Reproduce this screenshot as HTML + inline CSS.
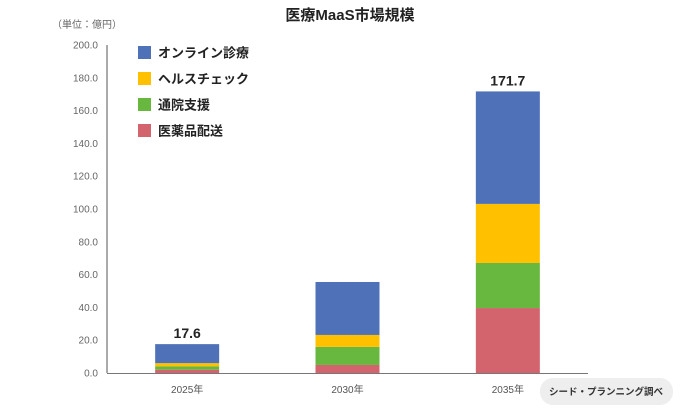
<!DOCTYPE html>
<html><head><meta charset="utf-8">
<style>
body{margin:0;width:700px;height:414px;background:#fff;overflow:hidden;font-family:"Liberation Sans","Noto Sans CJK JP",sans-serif;}
svg text{font-family:"Liberation Sans","Noto Sans CJK JP",sans-serif;}
</style></head><body>
<svg id="chart" width="700" height="414" xmlns="http://www.w3.org/2000/svg">
<text x="350" y="20" text-anchor="middle" font-size="15" font-weight="bold" fill="#222">医療MaaS市場規模</text>
<text x="52" y="28" font-size="10" fill="#666">（単位：億円）</text>
<g id="yaxis"></g>
<g id="bars"></g>
<g id="legend"></g>
<rect x="540" y="378" width="133" height="27" rx="13" fill="#eeeeee"/>
<text x="606" y="395" text-anchor="middle" font-size="9.5" font-weight="bold" fill="#333">シード・プランニング調べ</text>
</svg>
<script>
const categories=["2025年","2030年","2035年"];
const seriesNames=["医薬品配送","通院支援","ヘルスチェック","オンライン診療"];
const pharmacy=[2.0,4.9,39.6];
const transport=[2.0,11.0,27.5];
const healthcheck=[2.0,7.3,36.0];
const online=[11.6,32.3,68.6];
const totals=["17.6","","171.7"];
const yTicks=[0,20,40,60,80,100,120,140,160,180,200];
const colors=["#d3636d","#68b73f","#ffc000","#4f71b8"];
const NS="http://www.w3.org/2000/svg";
const x0=107,x1=588,yBase=373,yTop=45,yMax=200;
const y=v=>yBase-(v/yMax)*(yBase-yTop);
const bandW=(x1-x0)/categories.length;
const xc=i=>x0+bandW*(i+0.5)+(i-1)*0;
const barW=64;
function mk(tag,attrs,parent){const e=document.createElementNS(NS,tag);for(const k in attrs)e.setAttribute(k,attrs[k]);parent.appendChild(e);return e;}
const ya=document.getElementById('yaxis');
yTicks.forEach(t=>{const tx=mk('text',{x:x0-9,y:y(t)+3.5,'text-anchor':'end','font-size':'10',fill:'#666'},ya);tx.textContent=t.toFixed(1);

});
const al=mk('line',{x1:x0,y1:yTop,x2:x0,y2:yBase,stroke:'#555','stroke-width':1},ya);


const xl=mk('line',{x1:x0,y1:yBase+0.5,x2:x1,y2:yBase+0.5,stroke:'#777','stroke-width':1},ya);


const series=[pharmacy,transport,healthcheck,online];
const bg=document.getElementById('bars');
categories.forEach((c,i)=>{let acc=0;const cx=xc(i);
series.forEach((s,j)=>{const r=mk('rect',{x:cx-barW/2,y:y(acc+s[i]),width:barW,height:y(acc)-y(acc+s[i]),fill:colors[j]},bg);

acc+=s[i];});
if(totals[i]){const t=mk('text',{x:cx,y:y(acc)-6,'text-anchor':'middle','font-size':'14','font-weight':'bold',fill:'#222'},bg);t.textContent=totals[i];

}
const lb=mk('text',{x:cx,y:393,'text-anchor':'middle','font-size':'10',fill:'#555'},bg);lb.textContent=c;

});
const lg=document.getElementById('legend');
[3,2,1,0].forEach((j,k)=>{const yy=46+k*26;
const r=mk('rect',{x:138,y:yy,width:13,height:13,fill:colors[j]},lg);


const t=mk('text',{x:158,y:yy+11.5,'font-size':'13','font-weight':'bold',fill:'#222'},lg);t.textContent=seriesNames[j];

});
</script>
</body></html>
